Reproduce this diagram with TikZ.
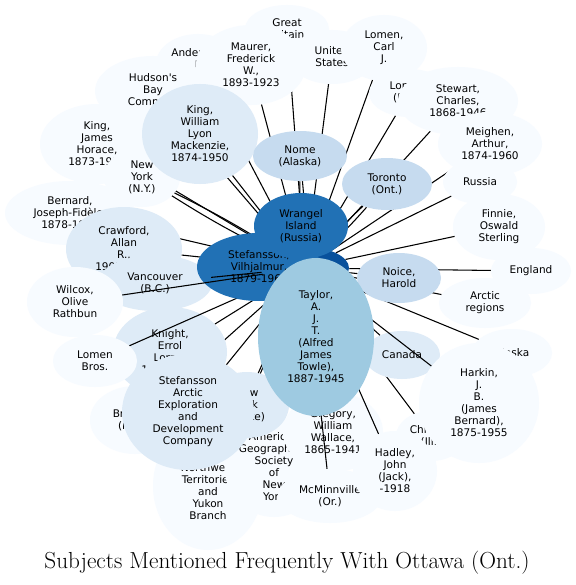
\documentclass[tikz,border=0pt]{standalone}
\usepackage{fontspec}
\newfontfamily\dv{DejaVu Sans}
\usetikzlibrary{shapes.geometric}
\definecolor{b0}{HTML}{F7FBFF}
\definecolor{b1}{HTML}{DEEBF7}
\definecolor{b2}{HTML}{C6DBEF}
\definecolor{b3}{HTML}{9ECAE1}
\definecolor{b5}{HTML}{2171B5}
\definecolor{b6}{HTML}{08519C}
\begin{document}
\begin{tikzpicture}[x=0.75pt,y=-0.75pt,
  bub/.style={ellipse, inner sep=0pt, align=center, text=black, font=\dv\fontsize{7.9}{9}\selectfont},
  sz/.style 2 args={minimum width=#1*1.5pt, minimum height=#2*1.5pt},
  ed/.style={line width=0.8pt, black}]
\useasboundingbox (0,0) rectangle (575,585);
\fill[white] (0,0) rectangle (575,585);
\node[bub, fill=b6, sz={44}{21}] (ott) at (305,268) {Ottawa\\(Ont.)};
\node[bub, fill=b0, sz={42}{24}] (gb) at (287,29) {Great\\Britain};
\draw[ed] (ott) -- (gb);
\node[bub, fill=b0, sz={42}{30}] (and) at (198,64) {Anderson,\\J.\\.};
\draw[ed] (ott) -- (and);
\node[bub, fill=b0, sz={43}{27}] (us) at (332,57) {United\\States};
\draw[ed] (ott) -- (us);
\node[bub, fill=b0, sz={43}{33}] (lomc) at (384,48) {Lomen,\\Carl\\J.};
\draw[ed] (ott) -- (lomc);
\node[bub, fill=b0, sz={55}{40}] (maur) at (251,65) {Maurer,\\Frederick\\W.,\\1893-1923};
\draw[ed] (ott) -- (maur);
\node[bub, fill=b0, sz={58}{35}] (hbc) at (153,91) {Hudson's\\Bay\\Company};
\draw[ed] (ott) -- (hbc);
\node[bub, fill=b0, sz={40}{24}] (lon) at (409,93) {London\\(Eng.)};
\draw[ed] (ott) -- (lon);
\node[bub, fill=b0, sz={60}{34}] (stew) at (458,101) {Stewart,\\Charles,\\1868-1946};
\draw[ed] (ott) -- (stew);
\node[bub, fill=b0, sz={52}{32}] (meig) at (490,144) {Meighen,\\Arthur,\\1874-1960};
\draw[ed] (ott) -- (meig);
\node[bub, fill=b0, sz={37}{22}] (rus) at (480,182) {Russia};
\draw[ed] (ott) -- (rus);
\node[bub, fill=b0, sz={46}{33}] (finn) at (499,227) {Finnie,\\Oswald\\Sterling};
\draw[ed] (ott) -- (finn);
\node[bub, fill=b0, sz={40}{23}] (eng) at (531,271) {England};
\draw[ed] (ott) -- (eng);
\node[bub, fill=b0, sz={46}{25}] (arc) at (485,303) {Arctic\\regions};
\draw[ed] (ott) -- (arc);
\node[bub, fill=b0, sz={40}{24}] (ala) at (512,353) {Alaska};
\draw[ed] (ott) -- (ala);
\node[bub, fill=b0, sz={57}{40}] (kjh) at (97,144) {King,\\James\\Horace,\\1873-1955};
\draw[ed] (ott) -- (kjh);
\node[bub, fill=b0, sz={65}{32}] (bern) at (70,213) {Bernard,\\Joseph-Fidèle,\\1878-1937};
\draw[ed] (ott) -- (bern);
\node[bub, fill=b0, sz={38}{30}] (nyc) at (142,177) {New\\York\\(N.Y.)};
\draw[ed] (ott) to[bend left=3] (nyc);
\draw[ed] (ott) to[bend right=3] (nyc);
\node[bub, fill=b1, sz={58}{42}] (craw) at (124,249) {Crawford,\\Allan\\R.,\\1901-1923};
\draw[ed] (ott) -- (craw);
\node[bub, fill=b1, sz={57}{28}] (van) at (155,283) {Vancouver\\(B.C.)};
\node[bub, fill=b0, sz={45}{34}] (bro) at (135,420) {Brandon\\(Man.)};
\draw[ed] (ott) -- (bro);
\node[bub, fill=b1, sz={57}{45}] (kni) at (170,352) {Knight,\\Errol\\Lorne,\\1899-1923};
\draw[ed] (ott) -- (kni);
\node[bub, fill=b0, sz={42}{26}] (lomb) at (95,361) {Lomen\\Bros.};
\draw[ed] (ott) -- (lomb);
\node[bub, fill=b0, sz={55}{64}] (nwt) at (208,486) {Canada.\\Northwest\\Territories\\and\\Yukon\\Branch};
\draw[ed] (ott) -- (nwt);
\node[bub, fill=b0, sz={48}{50}] (ags) at (274,467) {American\\Geographical\\Society\\of\\New\\York};
\draw[ed] (ott) -- (ags);
\node[bub, fill=b1, sz={42}{33}] (nys) at (247,405) {New\\York\\(State)};
\draw[ed] (ott) -- (nys);
\node[bub, fill=b1, sz={66}{58}] (saedc) at (188,412) {Stefansson\\Arctic\\Exploration\\and\\Development\\Company};
\draw[ed] (ott) -- (saedc);
\node[bub, fill=b0, sz={50}{40}] (greg) at (333,432) {Gregory,\\William\\Wallace,\\1865-1941};
\draw[ed] (ott) -- (greg);
\node[bub, fill=b0, sz={52}{27}] (mcm) at (330,496) {McMinnville\\(Or.)};
\draw[ed] (ott) -- (mcm);
\node[bub, fill=b0, sz={35}{25}] (chi) at (431,436) {Chicago\\(Ill.)};
\draw[ed] (ott) -- (chi);
\node[bub, fill=b0, sz={42}{40}] (had) at (395,471) {Hadley,\\John\\(Jack),\\-1918};
\draw[ed] (ott) -- (had);
\node[bub, fill=b1, sz={38}{24}] (can) at (402,355) {Canada};
\draw[ed] (ott) -- (can);
\node[bub, fill=b0, sz={60}{60}] (hark) at (479,403) {Harkin,\\J.\\B.\\(James\\Bernard),\\1875-1955};
\draw[ed] (ott) -- (hark);
\node[bub, fill=b1, sz={58}{50}] (kwlm) at (200,134) {King,\\William\\Lyon\\Mackenzie,\\1874-1950};
\draw[ed] (ott) -- (kwlm);
\node[bub, fill=b2, sz={47}{25}] (nome) at (300,156) {Nome\\(Alaska)};
\draw[ed] (ott) to[bend left=3] (nome);
\draw[ed] (ott) to[bend right=3] (nome);
\node[bub, fill=b2, sz={45}{26}] (tor) at (387,184) {Toronto\\(Ont.)};
\draw[ed] (ott) to[bend left=3] (tor);
\draw[ed] (ott) to[bend right=3] (tor);
\node[bub, fill=b2, sz={42}{25}] (noi) at (399,278) {Noice,\\Harold};
\draw[ed] (ott) -- (noi);
\node[bub, fill=b5, sz={62}{34}] (stef) at (259,267) {Stefansson,\\Vilhjalmur,\\1879-1962};
\node[bub, fill=b0, sz={48}{35}] (wil) at (75,302) {Wilcox,\\Olive\\Rathbun};
\draw[ed] (ott) -- (wil);
\draw[ed] (ott) -- (van);
\node[bub, fill=b5, sz={47}{33}] (wra) at (301,226) {Wrangel\\Island\\(Russia)};
\node[bub, fill=b3, sz={58}{79}] (tay) at (316,337) {Taylor,\\A.\\J.\\T.\\(Alfred\\James\\Towle),\\1887-1945};
\node (title) at (287,563) {\fontsize{17.4}{20}\selectfont Subjects Mentioned Frequently With Ottawa (Ont.)};
\end{tikzpicture}
\end{document}
